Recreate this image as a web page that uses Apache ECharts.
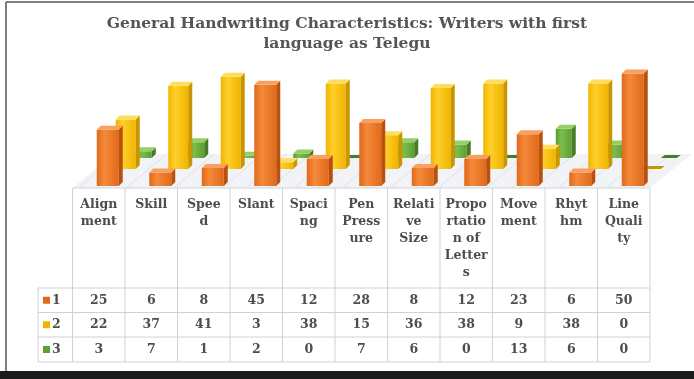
<!DOCTYPE html>
<html>
<head>
<meta charset="utf-8">
<script src="https://cdn.jsdelivr.net/npm/echarts@6/dist/echarts.min.js"></script>
<style>
  html, body { margin: 0; padding: 0; background: #fff; }
  #main { width: 694px; height: 379px; }
</style>
</head>
<body>
<div id="main"></div>
<script>
  // categories and header text as it wraps in the table cells
  var categories = ['Alignment', 'Skill', 'Speed', 'Slant', 'Spacing', 'Pen Pressure',
    'Relative Size', 'Proportation of Letters', 'Movement', 'Rhythm', 'Line Quality']
  var headerLabels = ['Align\nment', 'Skill', 'Spee\nd', 'Slant', 'Spaci\nng', 'Pen\nPress\nure',
    'Relati\nve\nSize', 'Propo\nrtatio\nn of\nLetter\ns', 'Move\nment', 'Rhyt\nhm', 'Line\nQuali\nty']
  var seriesNames = ['1', '2', '3']
  var series1 = [25, 6, 8, 45, 12, 28, 8, 12, 23, 6, 50]
  var series2 = [22, 37, 41, 3, 38, 15, 36, 38, 9, 38, 0]
  var series3 = [3, 7, 1, 2, 0, 7, 6, 0, 13, 6, 0]

  var chart = echarts.init(document.getElementById('main'))

  // layout of the table under the bars
  var tLeft = 72.5, tRight = 650, tTop = 188, headBottom = 288
  var rowLines = [288, 312.5, 337, 362]
  var colW = (tRight - tLeft) / categories.length
  var font = 'DejaVu Serif'
  var cellFont = 'bold 12.5px "' + font + '"'
  var textColor = '#4d4d4d'

  var palettes = [
    { front: ['#f5893a', '#e06a1c'], side: '#b9500f', top: '#f9a060', dx: 9, dy: 0, w: 22 },
    { front: ['#ffcf2a', '#f0b400'], side: '#c99600', top: '#ffdc5c', dx: 27, dy: -17, w: 20 },
    { front: ['#7cbd4c', '#5d9e35'], side: '#467c25', top: '#95d066', dx: 45, dy: -28, w: 16 }
  ]

  function boxRenderer(p) {
    return function(params, api) {
      var i = api.value(0)
      var v = api.value(1)
      var base = api.coord([i, 0])
      var top = api.coord([i, v])
      var x0 = base[0] + p.dx - p.w / 2
      var yb = base[1] + p.dy
      var yt = top[1] + p.dy
      var d = 4
      if (v === 0) {
        return {
          type: 'polygon',
          shape: { points: [[x0, yb], [x0 + d, yb - 3], [x0 + p.w + d, yb - 3], [x0 + p.w, yb]] },
          style: { fill: p.side }
        }
      }
      return {
        type: 'group',
        children: [{
          type: 'rect',
          shape: { x: x0, y: yt, width: p.w, height: yb - yt },
          style: {
            fill: new echarts.graphic.LinearGradient(0, 0, 1, 0, [
              { offset: 0, color: p.front[1] },
              { offset: 0.35, color: p.front[0] },
              { offset: 1, color: p.front[1] }
            ])
          }
        }, {
          type: 'polygon',
          shape: { points: [[x0 + p.w, yt], [x0 + p.w + d, yt - d], [x0 + p.w + d, yb - d], [x0 + p.w, yb]] },
          style: { fill: p.side }
        }, {
          type: 'polygon',
          shape: { points: [[x0, yt], [x0 + d, yt - d], [x0 + p.w + d, yt - d], [x0 + p.w, yt]] },
          style: { fill: p.top }
        }]
      }
    }
  }

  function toItems(arr) {
    return arr.map(function(v, i) { return [i, v] })
  }

  var allSeries = [series1, series2, series3]
  var seriesList = []
  // back row first so the front row covers it
  for (var s = 2; s >= 0; s--) {
    seriesList.push({
      name: seriesNames[s],
      type: 'custom',
      renderItem: boxRenderer(palettes[s]),
      encode: { x: 0, y: 1 },
      data: toItems(allSeries[s]),
      z: 10 + (2 - s)
    })
  }

  // table + frame decorations
  var g = []
  var lineStyle = { stroke: '#d2d2d2', lineWidth: 1 }
  g.push({ type: 'polygon', silent: true, z: 1,
    shape: { points: [[tLeft, tTop], [tRight, tTop], [692, 154], [tLeft + 40, 154]] },
    style: { fill: '#f2f3f6' } })
  for (var k = 0; k < 24; k++) {
    var sx = tLeft + 6 + k * 24
    if (sx > tRight) break
    g.push({ type: 'line', silent: true, z: 2,
      shape: { x1: sx, y1: tTop, x2: sx + 40, y2: 154 },
      style: { stroke: '#dde1e8', lineWidth: 1 } })
  }
  g.push({ type: 'rect', silent: true, z: 3, shape: { x: tLeft, y: tTop, width: tRight - tLeft, height: 380 - tTop },
    style: { fill: '#fff' } })
  g.push({ type: 'line', z: 20, shape: { x1: tLeft, y1: tTop, x2: tRight, y2: tTop }, style: lineStyle })
  rowLines.forEach(function(y) {
    g.push({ type: 'line', z: 20, shape: { x1: 38, y1: y, x2: tRight, y2: y }, style: lineStyle })
  })
  g.push({ type: 'line', z: 20, shape: { x1: 38, y1: headBottom, x2: 38, y2: rowLines[3] }, style: lineStyle })
  for (var c = 0; c <= categories.length; c++) {
    var x = tLeft + c * colW
    g.push({ type: 'line', z: 20, shape: { x1: x, y1: tTop, x2: x, y2: rowLines[3] }, style: lineStyle })
  }
  headerLabels.forEach(function(lbl, i) {
    g.push({ type: 'text', z: 21, x: tLeft + (i + 0.5) * colW, y: tTop + 8,
      style: { text: lbl, fill: textColor, font: cellFont, align: 'center',
        verticalAlign: 'top', lineHeight: 17 } })
  })
  allSeries.forEach(function(arr, r) {
    var cy = (rowLines[r] + rowLines[r + 1]) / 2
    g.push({ type: 'rect', z: 21, shape: { x: 43, y: cy - 3.5, width: 7, height: 7 },
      style: { fill: palettes[r].front[1] } })
    g.push({ type: 'text', z: 21, x: 52, y: cy,
      style: { text: seriesNames[r], fill: textColor, font: cellFont, verticalAlign: 'middle' } })
    arr.forEach(function(v, i) {
      g.push({ type: 'text', z: 21, x: tLeft + (i + 0.5) * colW, y: cy,
        style: { text: String(v), fill: textColor, font: cellFont,
          align: 'center', verticalAlign: 'middle' } })
    })
  })
  // outer frame
  g.push({ type: 'line', z: 30, shape: { x1: 6, y1: 2, x2: 694, y2: 2 }, style: { stroke: '#555', lineWidth: 1.5 } })
  g.push({ type: 'line', z: 30, shape: { x1: 6, y1: 2, x2: 6, y2: 372 }, style: { stroke: '#555', lineWidth: 1.5 } })
  g.push({ type: 'rect', z: 30, shape: { x: 0, y: 371, width: 694, height: 8 }, style: { fill: '#1b1b1b' } })

  chart.setOption({
    animation: false,
    title: {
      text: 'General Handwriting Characteristics: Writers with first\nlanguage as Telegu',
      left: 'center',
      top: 9,
      textStyle: { fontFamily: font, fontWeight: 'bold', fontSize: 15.5, color: '#555555', lineHeight: 20 }
    },
    grid: { left: tLeft, right: 694 - tRight, top: 186 - 112.5, bottom: 379 - 186 },
    xAxis: {
      type: 'category',
      data: categories,
      show: false
    },
    yAxis: {
      type: 'value',
      min: 0,
      max: 50,
      show: false
    },
    graphic: g,
    series: seriesList
  })
</script>
</body>
</html>
